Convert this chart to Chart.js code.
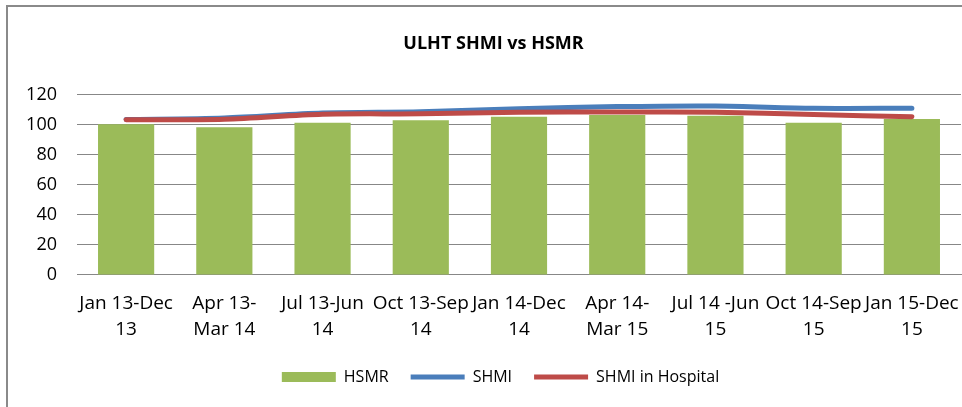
<!DOCTYPE html>
<html>
<head>
<meta charset="utf-8">
<script src="https://cdn.jsdelivr.net/npm/chart.js@4"></script>
<style>
  html, body { margin: 0; padding: 0; background: #fff; overflow: hidden; width: 962px; height: 407px; }
  #frame { position: absolute; left: 6px; top: 5px; width: 1000px; height: 500px; border: 2px solid #8a8a8a; }
  #wrap { position: absolute; left: 0; top: 0; width: 980px; height: 400px; }
</style>
</head>
<body>
<div id="frame">
  <div id="wrap"><canvas id="grafico"></canvas></div>
</div>
<script>
// periodos (etiquetas partidas en dos lineas como en el original)
const periodos = [
  ['Jan 13-Dec', '13'],
  ['Apr 13-', 'Mar 14'],
  ['Jul 13-Jun', '14'],
  ['Oct 13-Sep', '14'],
  ['Jan 14-Dec', '14'],
  ['Apr 14-', 'Mar 15'],
  ['Jul 14 -Jun', '15'],
  ['Oct 14-Sep', '15'],
  ['Jan 15-Dec', '15']
];
const hsmr = [100.3, 98.2, 101.3, 102.9, 105.3, 106.5, 105.9, 101.3, 103.8];
const shmi = [103.4, 104.5, 107.8, 108.6, 110.6, 112.0, 112.4, 110.9, 110.9];
const shmiHospital = [103.2, 103.6, 106.9, 107.2, 108.2, 108.5, 108.2, 106.7, 105.3];
const ejeY = { min: 0, max: 120, paso: 20 };

const fuente = "'Open Sans', 'Liberation Sans', sans-serif";
const gris = '#878787';

// la leyenda queda mas cerca de las etiquetas del eje que en chart.js
const moverLeyenda = {
  id: 'moverLeyenda',
  afterLayout(chart) {
    const l = chart.legend;
    l.top -= 12; l.bottom -= 12;
    l.left += 7; l.right += 7;
  }
};

const ctx = document.getElementById('grafico').getContext('2d');
new Chart(ctx, {
  type: 'bar',
  data: {
    labels: periodos,
    datasets: [
      {
        label: 'HSMR',
        data: hsmr,
        backgroundColor: '#9bbb59',
        borderWidth: 0,
        categoryPercentage: 1,
        barPercentage: 0.572,
        pointStyle: 'rect',
        order: 3
      },
      {
        type: 'line',
        label: 'SHMI',
        data: shmi,
        borderColor: '#4a7ebb',
        backgroundColor: '#4a7ebb',
        borderWidth: 5,
        borderCapStyle: 'round',
        tension: 0.3,
        pointRadius: 0,
        pointStyle: 'line',
        order: 2
      },
      {
        type: 'line',
        label: 'SHMI in Hospital',
        data: shmiHospital,
        borderColor: '#be4b48',
        backgroundColor: '#be4b48',
        borderWidth: 5,
        borderCapStyle: 'round',
        tension: 0.3,
        pointRadius: 0,
        pointStyle: 'line',
        order: 1
      }
    ]
  },
  options: {
    responsive: true,
    maintainAspectRatio: false,
    animation: false,
    layout: { padding: { left: 18, right: 27, top: 0, bottom: 0 } },
    scales: {
      x: {
        grid: { display: false, drawTicks: false },
        border: { display: true, color: gris, width: 1 },
        ticks: {
          color: '#000',
          padding: 16,
          maxRotation: 0,
          autoSkip: false,
          font: { family: fuente, size: 19, lineHeight: 1.37 }
        }
      },
      y: {
        min: ejeY.min,
        max: ejeY.max,
        afterFit: s => { s.width = 51; },
        grid: { color: gris, lineWidth: 1, drawTicks: false },
        border: { display: false },
        ticks: {
          stepSize: ejeY.paso,
          color: '#000',
          padding: 20,
          font: { family: fuente, size: 18 }
        }
      }
    },
    plugins: {
      title: {
        display: true,
        text: 'ULHT SHMI vs HSMR',
        color: '#000',
        font: { family: fuente, size: 18, weight: 'bold' },
        padding: { top: 26, bottom: 40 }
      },
      legend: {
        position: 'bottom',
        labels: {
          color: '#000',
          usePointStyle: true,
          pointStyleWidth: 54,
          boxHeight: 10,
          padding: 22,
          font: { family: fuente, size: 16 },
          sort: (a, b) => a.datasetIndex - b.datasetIndex
        }
      },
      tooltip: { enabled: false }
    }
  },
  plugins: [moverLeyenda]
});
</script>
</body>
</html>
